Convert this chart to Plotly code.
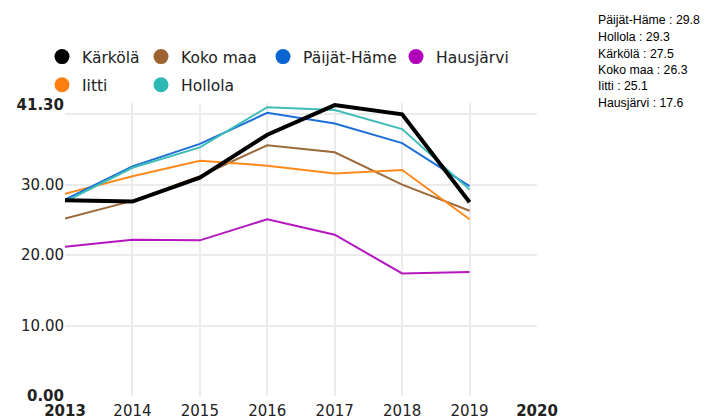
import plotly.graph_objects as go

years = [2013, 2014, 2015, 2016, 2017, 2018, 2019]
karkola = [27.8, 27.6, 31.0, 37.1, 41.3, 40.0, 27.5]
koko_maa = [25.2, 27.7, 31.2, 35.6, 34.6, 30.0, 26.3]
paijat_hame = [27.9, 32.6, 35.8, 40.2, 38.7, 35.9, 29.8]
hausjarvi = [21.2, 22.2, 22.1, 25.1, 22.9, 17.4, 17.6]
iitti = [28.7, 31.2, 33.4, 32.7, 31.6, 32.1, 25.1]
hollola = [27.6, 32.4, 35.3, 41.0, 40.6, 37.9, 29.3]

x_tickvals = [2013, 2014, 2015, 2016, 2017, 2018, 2019, 2020]
x_ticktext = ["<b>2013</b>", "2014", "2015", "2016", "2017", "2018", "2019", "<b>2020</b>"]
y_tickvals = [0, 10, 20, 30, 41.3]
y_ticktext = ["<b>0.00</b>", "10.00", "20.00", "30.00", "<b>41.30</b>"]
y_gridvals = [0, 10, 20, 30, 40]

summary_lines = [
    "Päijät-Häme : 29.8",
    "Hollola : 29.3",
    "Kärkölä : 27.5",
    "Koko maa : 26.3",
    "Iitti : 25.1",
    "Hausjärvi : 17.6",
]

series = [
    # name, values, color, width, legend
    ("Koko maa", koko_maa, "#9c6a3a", 2, "legend2"),
    ("Iitti", iitti, "#ff8a1c", 2, "legend"),
    ("Hausjärvi", hausjarvi, "#b516c0", 2, "legend4"),
    ("Päijät-Häme", paijat_hame, "#1c6fd8", 2, "legend3"),
    ("Hollola", hollola, "#3dbdb8", 2, "legend2"),
    ("Kärkölä", karkola, "#000000", 4, "legend"),
]

legend_order = ["Kärkölä", "Iitti", "Koko maa", "Hollola", "Päijät-Häme", "Hausjärvi"]
legend_colors = {
    "Kärkölä": "#000000",
    "Koko maa": "#9c6330",
    "Päijät-Häme": "#0a64d2",
    "Hausjärvi": "#b000b8",
    "Iitti": "#ff8010",
    "Hollola": "#2cb8b4",
}

fig = go.Figure()
for name, vals, color, w, lg in series:
    fig.add_trace(go.Scatter(x=years, y=vals, mode="lines", name=name,
                             line=dict(color=color, width=w), showlegend=False,
                             hoverinfo="skip"))

lg_of = {s[0]: s[4] for s in series}
for name in legend_order:
    fig.add_trace(go.Scatter(x=[None], y=[None], mode="markers", name=name,
                             marker=dict(color=legend_colors[name], size=15, symbol="circle"),
                             legend=lg_of[name], legendgroup=name, showlegend=True))

# page offset of the plot div (default body margin)
OFF = 8
W, H = 715, 418
# target plot area in page pixels: x 65..537, y 103..396
L = 65 - OFF
T = 103 - OFF
pw = 472
ph = 293
R = W - L - pw
B = H - T - ph

def px_x(p):
    return (p - OFF - L) / pw

def px_y(p):
    return (T + ph - (p - OFF)) / ph

legend_font = dict(family="DejaVu Sans", size=15.5, color="#222222")
common = dict(orientation="v", xanchor="left", yanchor="top", bgcolor="rgba(0,0,0,0)",
              font=legend_font, tracegroupgap=5, itemclick=False, itemdoubleclick=False)

line_y = [20.5, 37, 53.5, 70, 86.5, 103]
annotations = []
for txt, yy in zip(summary_lines, line_y):
    annotations.append(dict(
        xref="paper", yref="paper", x=px_x(596), y=px_y(yy),
        xanchor="left", yanchor="middle", align="left", showarrow=False,
        text=txt,
        font=dict(family="Liberation Sans", size=12.3, color="#000000"),
    ))

fig.update_layout(
    width=W, height=H,
    margin=dict(l=L, r=R, t=T, b=B, autoexpand=False),
    paper_bgcolor="white", plot_bgcolor="white",
    font=dict(family="DejaVu Sans", size=15, color="#222222"),
    legend=dict(x=px_x(42), y=px_y(40), **common),
    legend2=dict(x=px_x(141), y=px_y(40), **common),
    legend3=dict(x=px_x(263), y=px_y(40), **common),
    legend4=dict(x=px_x(396), y=px_y(40), **common),
    xaxis=dict(range=[2013, 2020], tickvals=x_tickvals, ticktext=x_ticktext,
               showgrid=False, zeroline=False, showline=False, ticks="",
               automargin=False, ticklabelstandoff=4,
               tickfont=dict(family="DejaVu Sans", size=15, color="#222222"),
               minor=dict(tickvals=[2014, 2015, 2016, 2017, 2018, 2019], showgrid=True,
                          gridcolor="#ebebeb", gridwidth=1.5, ticks="")),
    yaxis=dict(range=[0, 41.6], tickvals=y_tickvals, ticktext=y_ticktext,
               showgrid=False, zeroline=False, showline=False, ticks="",
               automargin=False,
               tickfont=dict(family="DejaVu Sans", size=15, color="#222222"),
               minor=dict(tickvals=y_gridvals, showgrid=True,
                          gridcolor="#ebebeb", gridwidth=1.5, ticks="")),
    annotations=annotations,
)

fig.write_html("out.html")
